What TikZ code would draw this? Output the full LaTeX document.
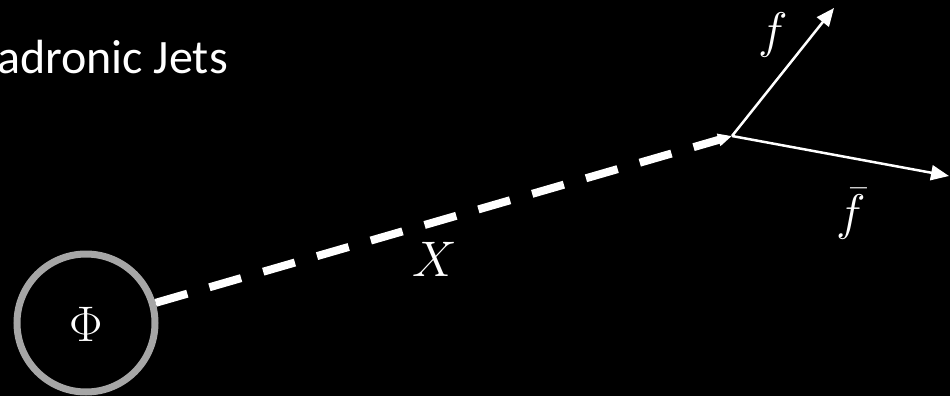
\RequirePackage{fix-cm}
\documentclass[tikz,border=0pt]{standalone}
\usepackage{fontspec}
\setsansfont{Carlito}
\usetikzlibrary{arrows.meta}
\begin{document}
\begin{tikzpicture}[x=1pt,y=-1pt,
  lbl/.style={text=white,inner sep=0pt,font=\fontsize{50}{56}\selectfont},
  thinarrow/.style={draw=white,line width=2.5pt,-{Triangle[length=18pt,width=15pt]}},
  dasharrow/.style={draw=white,line width=8pt,dash pattern=on 33pt off 23pt,-{Triangle[length=14pt,width=12pt]}}]
\fill[black] (0,0) rectangle (950,396);
\useasboundingbox (0,0) rectangle (950,396);
\node[text=white,inner sep=0pt,anchor=base east,font=\sffamily\fontsize{48}{54}\selectfont] (title) at (228,74) {Hadronic Jets};
\node[circle,draw={rgb,255:red,166;green,166;blue,166},line width=7pt,minimum size=138pt,inner sep=0pt] (phi) at (86,323) {};
\node[lbl] (philbl) at (86,324) {$\Phi$};
\coordinate (v) at (732,136);
\coordinate (ft) at (834,8);
\coordinate (fbt) at (949,176);
\draw[dasharrow] (phi) -- (v);
\draw[thinarrow] (v) -- (ft);
\draw[thinarrow] (v) -- (fbt);
\node[lbl] (xl) at (435,259) {$X$};
\node[lbl] (fl) at (773,35) {$f$};
\node[lbl] (fbl) at (851,214) {$\bar f$};
\end{tikzpicture}
\end{document}
